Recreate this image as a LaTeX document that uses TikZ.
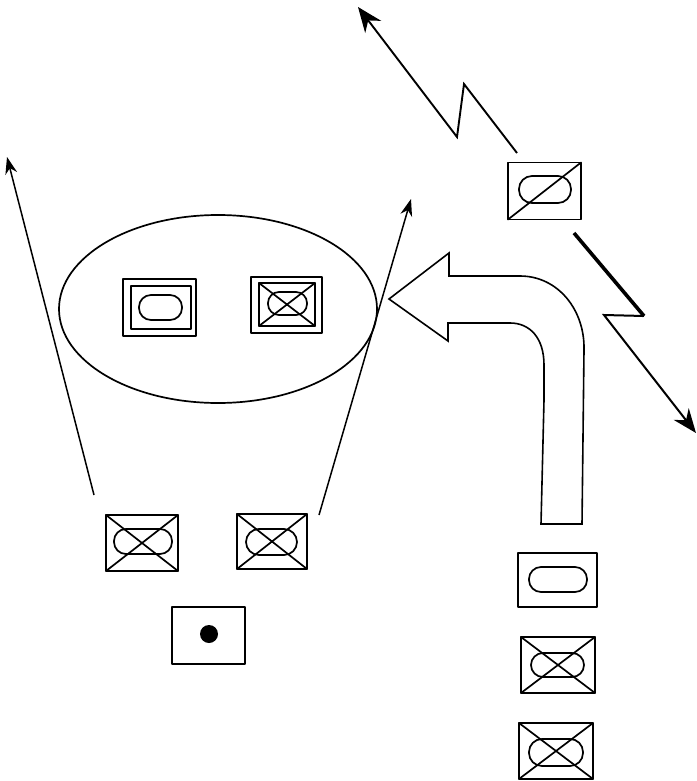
\documentclass[tikz,border=0pt]{standalone}
\usetikzlibrary{arrows.meta,shapes.geometric}
\tikzset{
  x=1pt,y=-1pt,
  ink/.style={line width=1.7pt,line join=round,line cap=round},
  cell/.style={ink,draw,rectangle,inner sep=0pt,outer sep=0pt,minimum width=#1},
  cell/.default=73pt,
  obround/.style={ink,draw,rectangle,inner sep=0pt,outer sep=0pt,rounded corners=11pt},
  crossline/.style={ink},
  bolt/.style={ink,line join=miter},
  thinarrow/.style={line width=1.5pt,-{Stealth[length=17pt,width=12pt]}},
  boltarrow/.style={line width=2pt,-{Stealth[length=24pt,width=19pt]}}
}
\begin{document}
\begin{tikzpicture}
\useasboundingbox (0,0) rectangle (696,781);
% centre-positioned cells
\node[cell=73pt,minimum height=57pt] (tr) at (544.5,191) {};
\node[obround,minimum width=52pt,minimum height=27pt,rounded corners=13pt] (trO) at (545,189.5) {};
\draw[crossline] (tr.south west) -- (tr.north east);

\node[cell=73pt,minimum height=57pt] (dl) at (159.5,307.5) {};
\node[cell=60pt,minimum height=43pt] (dli) at (161,307.5) {};
\node[obround,minimum width=43pt,minimum height=25pt,rounded corners=12pt] (dlO) at (160.5,307.5) {};

\node[cell=71pt,minimum height=56pt] (dr) at (286.5,305) {};
\node[cell=56pt,minimum height=43pt] (dri) at (287,304.5) {};
\node[obround,minimum width=39pt,minimum height=23pt,rounded corners=11pt] (drO) at (287.5,303.5) {};
\draw[crossline] (dri.south west) -- (dri.north east) (dri.north west) -- (dri.south east);

\node[cell=72pt,minimum height=56pt] (a) at (142,543) {};
\node[obround,minimum width=58pt,minimum height=25pt,rounded corners=12pt] (aO) at (143,541.5) {};
\draw[crossline] (a.south west) -- (a.north east) (a.north west) -- (a.south east);

\node[cell=70pt,minimum height=55pt] (b) at (272,541.5) {};
\node[obround,minimum width=51pt,minimum height=26pt,rounded corners=13pt] (bO) at (271.5,542) {};
\draw[crossline] (b.south west) -- (b.north east) (b.north west) -- (b.south east);

\node[cell=73pt,minimum height=57pt] (c) at (208.5,635.5) {};
\node[circle,fill=black,inner sep=0pt,minimum size=18pt] (cD) at (209,634) {};

\node[cell=79pt,minimum height=54pt] (d) at (557.5,580) {};
\node[obround,minimum width=58pt,minimum height=25pt,rounded corners=12pt] (dO) at (558,579.5) {};

\node[cell=74pt,minimum height=56pt] (e) at (558,665) {};
\node[obround,minimum width=53pt,minimum height=24pt,rounded corners=12pt] (eO) at (557.5,665) {};
\draw[crossline] (e.south west) -- (e.north east) (e.north west) -- (e.south east);

\node[cell=74pt,minimum height=56pt] (f) at (556,751) {};
\node[obround,minimum width=54pt,minimum height=27pt,rounded corners=13pt] (fO) at (556,752.5) {};
\draw[crossline] (f.south west) -- (f.north east) (f.north west) -- (f.south east);

\node[ink,draw,ellipse,inner sep=0pt,outer sep=0pt,minimum width=318pt,minimum height=188pt] (oval) at (218,309) {};

% big bent arrow
\draw[ink,line width=1.6pt,line join=miter] (541,524) -- (544,400) -- (544,365)
  .. controls (544,338) and (530,323) .. (510,323)
  -- (448,323) -- (448,341) -- (389,299) -- (449,253) -- (449,276) -- (520,276)
  .. controls (558,276) and (585,310) .. (584,350)
  -- (582,524) -- cycle;

% free ends
\coordinate (lS) at (94,495);
\coordinate (lT) at (7,157);
\coordinate (rS) at (319,515);
\coordinate (rT) at (411,199);
\coordinate (uS) at (517,153);
\coordinate (uA) at (464,84);
\coordinate (uB) at (457,137);
\coordinate (uT) at (358,7);
\coordinate (vS) at (574,233);
\coordinate (vA) at (644,316);
\coordinate (vB) at (604,315);
\coordinate (vT) at (696,433);

\draw[thinarrow] (lS) -- (lT);
\draw[thinarrow] (rS) -- (rT);
\draw[line width=1.9pt,line join=miter,-{Stealth[length=25pt,width=20pt]}] (uS) -- (uA) -- (uB) -- (uT);
\draw[line width=3.6pt] (vS) -- (vA);
\draw[boltarrow,line join=miter] (vA) -- (vB) -- (vT);
\end{tikzpicture}
\end{document}
